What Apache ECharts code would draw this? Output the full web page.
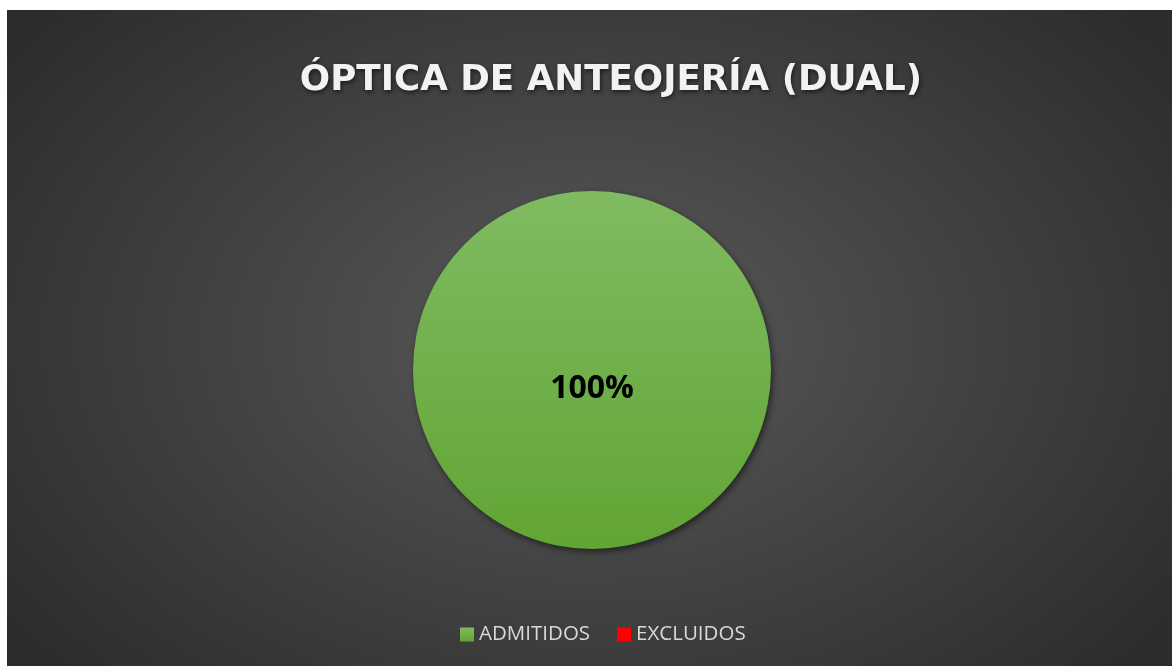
<!DOCTYPE html>
<html>
<head>
<meta charset="utf-8">
<script src="https://cdn.jsdelivr.net/npm/echarts@6/dist/echarts.min.js"></script>
<style>
  html, body { margin: 0; padding: 0; background: #fff; }
  #chart {
    position: absolute; left: 7px; top: 10px; width: 1165px; height: 656px;
    background: radial-gradient(ellipse 62% 75% at 50% 50%, #5a5a5a 0%, #454545 45%, #2c2c2c 100%);
  }
</style>
</head>
<body>
<div id="chart"></div>
<script>
/* 标题 / 分类 / 数值 */
var chartTitle = 'ÓPTICA DE ANTEOJERÍA (DUAL)';
var categories = ['ADMITIDOS', 'EXCLUIDOS'];
var values = [100, 0];
var colors = ['#70ad47', '#ff0000'];

var chart = echarts.init(document.getElementById('chart'));

var pieData = categories.map(function (name, i) {
    var item = { name: name, value: values[i] };
    if (i === 0) {
        item.itemStyle = {
            color: new echarts.graphic.LinearGradient(0, 0, 0, 1, [
                { offset: 0, color: '#80bb61' },
                { offset: 1, color: '#61a534' }
            ])
        };
    } else {
        item.itemStyle = { color: colors[i] };
    }
    return item;
});

var option = {
    backgroundColor: 'transparent',
    animation: false,
    title: {
        text: chartTitle,
        left: 599,
        top: 48,
        textAlign: 'center',
        textStyle: {
            color: '#f2f2f2',
            fontFamily: 'DejaVu Sans',
            fontWeight: 'bold',
            fontSize: 35.7,
            textShadowColor: 'rgba(0,0,0,0.6)',
            textShadowBlur: 4,
            textShadowOffsetX: 1,
            textShadowOffsetY: 2
        }
    },
    color: colors,
    legend: {
        bottom: 16,
        left: 448,
        icon: 'rect',
        itemWidth: 14,
        itemHeight: 14,
        itemGap: 27,
        selectedMode: false,
        textStyle: {
            color: '#d9d9d9',
            fontFamily: 'Open Sans',
            fontSize: 20.5,
            padding: [0, 0, 0, 0]
        },
        data: categories
    },
    series: [{
        type: 'pie',
        center: [585, 360],
        radius: [0, 179],
        startAngle: 90,
        minAngle: 0,
        stillShowZeroSum: false,
        silent: true,
        itemStyle: {
            shadowColor: 'rgba(0,0,0,0.5)',
            shadowBlur: 6,
            shadowOffsetX: 2,
            shadowOffsetY: 3
        },
        label: {
            show: true,
            position: 'center',
            offset: [0, 19],
            color: '#000',
            fontFamily: 'Open Sans',
            fontWeight: 'bold',
            fontSize: 32,
            formatter: function (p) {
                return p.value > 0 ? Math.round(p.percent) + '%' : '';
            }
        },
        labelLine: { show: false },
        data: pieData
    }]
};

chart.setOption(option);
</script>
</body>
</html>
